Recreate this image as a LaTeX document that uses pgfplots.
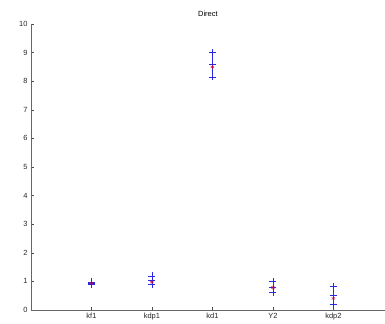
\documentclass[border=0pt]{standalone}
\usepackage{pgfplots}
\pgfplotsset{compat=1.18}
\usepackage{fontspec}
\setmainfont{Liberation Sans}
\definecolor{mblue}{RGB}{40,40,230}
\begin{document}
\begin{tikzpicture}
\begin{axis}[name=ax,
  scale only axis, width=354bp, height=286bp,
  xmin=0, xmax=5.85, ymin=0, ymax=10,
  axis x line*=bottom, axis y line*=left,
  axis line style={draw=black!60, -}, 
  xtick={1,2,3,4,5}, xticklabels={kf1,kdp1,kd1,Y2,kdp2},
  ytick={0,1,...,10},
  tick align=inside, major tick length=3bp,
  tick style={black!70},
  tick label style={font=\fontsize{7.5}{8}\selectfont, text=black!85},
  /pgf/number format/assume math mode=true,
  title={Direct}, title style={font=\fontsize{7.5}{8}\selectfont, yshift=-2bp},
  clip=false,
]
\addplot[mblue, line width=0.6pt, only marks, mark=-, mark size=3.5bp,
  mark options={mblue, line width=0.6pt},
  error bars/.cd, y dir=both, y explicit,
  error mark=none, error bar style={draw=mblue, line width=0.6pt}]
 coordinates {
 (1,0.93) +- (0,0.05)
 (2,1.04) +- (0,0.15)
 (3,8.58) +- (0,0.43)
 (4,0.80) +- (0,0.19)
 (5,0.52) +- (0,0.31)};
% upper caps
\addplot[mblue, only marks, mark=+, mark size=3.5bp, mark options={mblue, line width=0.6pt}] coordinates {
 (1,0.98) (2,1.19) (3,9.01) (4,0.99) (5,0.83)};
% lower caps
\addplot[mblue, only marks, mark=+, mark size=3.5bp, mark options={mblue, line width=0.6pt}] coordinates {
 (1,0.88) (2,0.89) (3,8.15) (4,0.61) (5,0.21)};
\addplot[red!80!blue, only marks, mark=asterisk, mark size=2pt] coordinates {
 (1,0.93) (2,0.97) (3,8.5) (4,0.78) (5,0.40)};
\end{axis}
\path[use as bounding box] ([shift={(-31bp,-13bp)}]ax.south west) rectangle ([shift={(0bp,24bp)}]ax.north east);
\end{tikzpicture}
\end{document}
